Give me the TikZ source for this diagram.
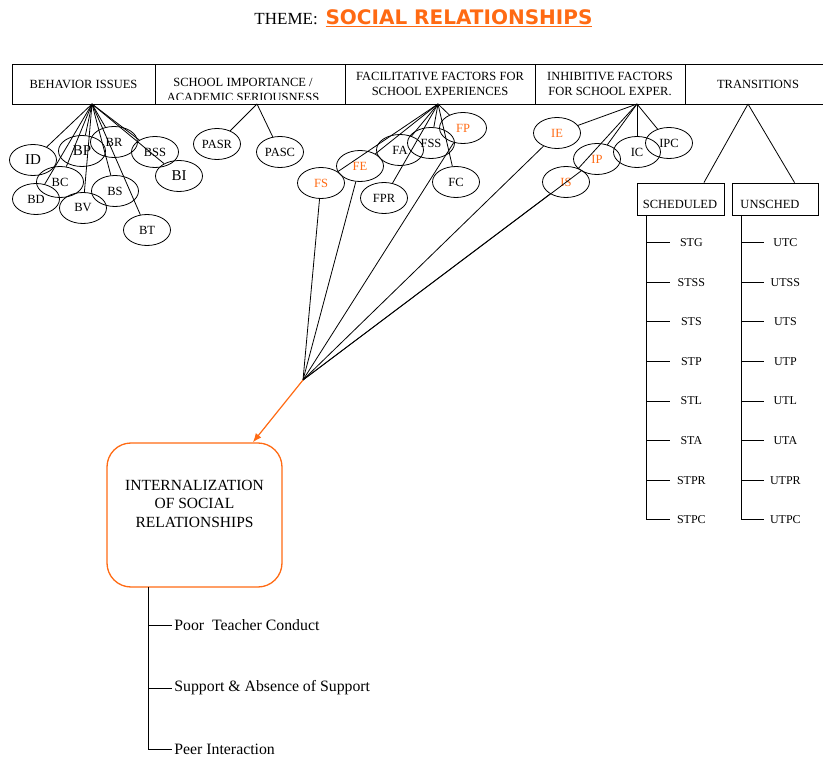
\documentclass[tikz,border=0pt]{standalone}
\usepackage{fontspec}
\setmainfont{Liberation Serif}
\newfontfamily\themefont{DejaVu Sans}
\usetikzlibrary{shapes.geometric, arrows.meta}
\definecolor{themeorange}{HTML}{FF6A13}
\tikzset{>={Latex[length=9pt, width=7pt]}}
\tikzset{
  headcell/.style={draw, line width=0.9, minimum height=40pt, inner sep=0pt, align=center,
    font=\fontsize{12.5}{15}\selectfont},
  bubble/.style={ellipse, draw, minimum width=47pt, minimum height=31pt, inner sep=0pt,
    font=\fontsize{12.5}{13}\selectfont},
  bigtext/.style={font=\fontsize{15}{16}\selectfont},
  hot/.style={text=themeorange},
  leafitem/.style={anchor=west, inner sep=3pt, text width=36pt, align=center,
    font=\fontsize{12}{13}\selectfont},
  branchtext/.style={anchor=west, inner sep=2pt, font=\fontsize{15.8}{17}\selectfont}
}

\begin{document}
\begin{tikzpicture}[x=1pt, y=-1pt, line width=0.8]
\useasboundingbox (0,0) rectangle (823,757);

% title
\node[anchor=base, inner sep=0pt, text=themeorange, font=\themefont\bfseries\fontsize{20}{21}\selectfont] (title) at (459,25) {\underline{SOCIAL RELATIONSHIPS}};
\node[anchor=base east, inner sep=0pt, font=\fontsize{17}{18}\selectfont] (theme) at ([xshift=-7pt]title.base west) {THEME:};

% header row
\node[headcell, minimum width=143pt] (behav) at (83.5,84) {BEHAVIOR ISSUES};
\node[headcell, minimum width=190pt] (school) at (250,84) {};
\node[headcell, minimum width=190pt] (facil) at (440,84) {FACILITATIVE FACTORS FOR\\SCHOOL EXPERIENCES};
\node[headcell, minimum width=150pt] (inhib) at (610,84) {INHIBITIVE FACTORS\\FOR SCHOOL EXPER.};
\node[headcell, minimum width=146pt] (trans) at (758,84) {TRANSITIONS};
\begin{scope}
  \clip (155,64) rectangle (345,99.5);
  \node[align=center, font=\fontsize{12.5}{15}\selectfont] (schooltxt) at (243,90) {SCHOOL IMPORTANCE /\\ACADEMIC SERIOUSNESS};
\end{scope}

\coordinate (bhub) at (92,104);
\coordinate (shub) at (257,104);
\coordinate (fhub) at (438,104);
\coordinate (ihub) at (637,104);
\coordinate (thub) at (748,104);

% behavior issues
\node[bubble, bigtext] (id) at (33,160) {ID};
\node[bubble, bigtext] (bp) at (82,151) {BP};
\node[bubble] (br) at (114,142) {BR};
\node[bubble] (bss) at (155,152) {BSS};
\node[bubble, bigtext] (bi) at (179,176) {BI};
\node[bubble] (bc) at (60,182) {BC};
\node[bubble] (bd) at (36,199) {BD};
\node[bubble] (bv) at (83,208) {BV};
\node[bubble] (bs) at (115,191) {BS};
\node[bubble] (bt) at (147,230) {BT};
\foreach \b in {id,bp,br,bss,bi,bc,bd,bv,bs,bt}
  \draw (bhub) -- (\b);

% school importance
\node[bubble] (pasr) at (217,144) {PASR};
\node[bubble] (pasc) at (280,152) {PASC};
\draw (shub) -- (pasr);
\draw (shub) -- (pasc);

% facilitative factors
\node[bubble, hot] (fp) at (463,128) {FP};
\node[bubble] (fss) at (431,143) {FSS};
\node[bubble] (fa) at (400,150) {FA};
\node[bubble, hot] (fe) at (360,166) {FE};
\node[bubble, hot] (fs) at (321,183) {FS};
\node[bubble] (fpr) at (384,198) {FPR};
\node[bubble] (fc) at (456,182) {FC};
\foreach \b in {fs,fe,fa,fss,fp,fc,fpr}
  \draw (fhub) -- (\b);

% inhibitive factors
\node[bubble, hot] (ie) at (557,133) {IE};
\node[bubble, hot] (ip) at (597,159) {IP};
\node[bubble, hot] (is) at (566,182) {IS};
\node[bubble] (ic) at (637,152) {IC};
\node[bubble] (ipc) at (669,143) {IPC};
\foreach \b in {ie,ip,is,ic,ipc}
  \draw (ihub) -- (\b);

% transitions
\node[draw, minimum width=87pt, minimum height=32pt] (sched) at (680.5,199) {};
\node[draw, minimum width=86pt, minimum height=32pt] (unsched) at (775,199) {};
\begin{scope}
  \clip (637,183) rectangle (818,209.5);
  \node[font=\fontsize{12.5}{13}\selectfont] (schedtxt) at (680,204.5) {SCHEDULED};
  \node[font=\fontsize{12.5}{13}\selectfont] (unschedtxt) at (770,204.5) {UNSCHED};
\end{scope}
\draw (thub) -- (sched.35);
\draw (thub) -- (unsched.40);

\coordinate (sstem) at (646,215);
\coordinate (ustem) at (741,215);
\foreach \lab [count=\i] in {STG,STSS,STS,STP,STL,STA,STPR,STPC}{
  \node[leafitem] (s\i) at (670,203+39.6*\i) {\lab};
  \draw (sstem |- s\i.west) -- (s\i.west);
}
\foreach \lab [count=\i] in {UTC,UTSS,UTS,UTP,UTL,UTA,UTPR,UTPC}{
  \node[leafitem] (u\i) at (764,203+39.6*\i) {\lab};
  \draw (ustem |- u\i.west) -- (u\i.west);
}
\draw (sstem) -- (sstem |- s8.west);
\draw (ustem) -- (ustem |- u8.west);

% internalization
\coordinate (hub) at (303,380);
\foreach \b in {fs,fe,fp,ie,ip,is}
  \draw (\b) -- (hub);
\node[draw=themeorange, line width=1.3, rounded corners=24pt, minimum width=175pt, minimum height=144pt, align=center, font=\fontsize{15.5}{18.3}\selectfont] (goal) at (194.5,515) {INTERNALIZATION\\OF SOCIAL\\RELATIONSHIPS\\[4pt]~};
\draw[->, themeorange, line width=1.2] (hub) -- (goal);

\coordinate (gstem) at (148,587);
\node[branchtext] (b1) at (172,625) {Poor\ \ Teacher Conduct};
\node[branchtext] (b2) at (172,688) {Support \& Absence of Support};
\node[branchtext] (b3) at (172,749) {Peer Interaction};
\draw (gstem) -- (gstem |- b3.west) -- (b3.west);
\draw (gstem |- b1.west) -- (b1.west);
\draw (gstem |- b2.west) -- (b2.west);
\end{tikzpicture}
\end{document}
